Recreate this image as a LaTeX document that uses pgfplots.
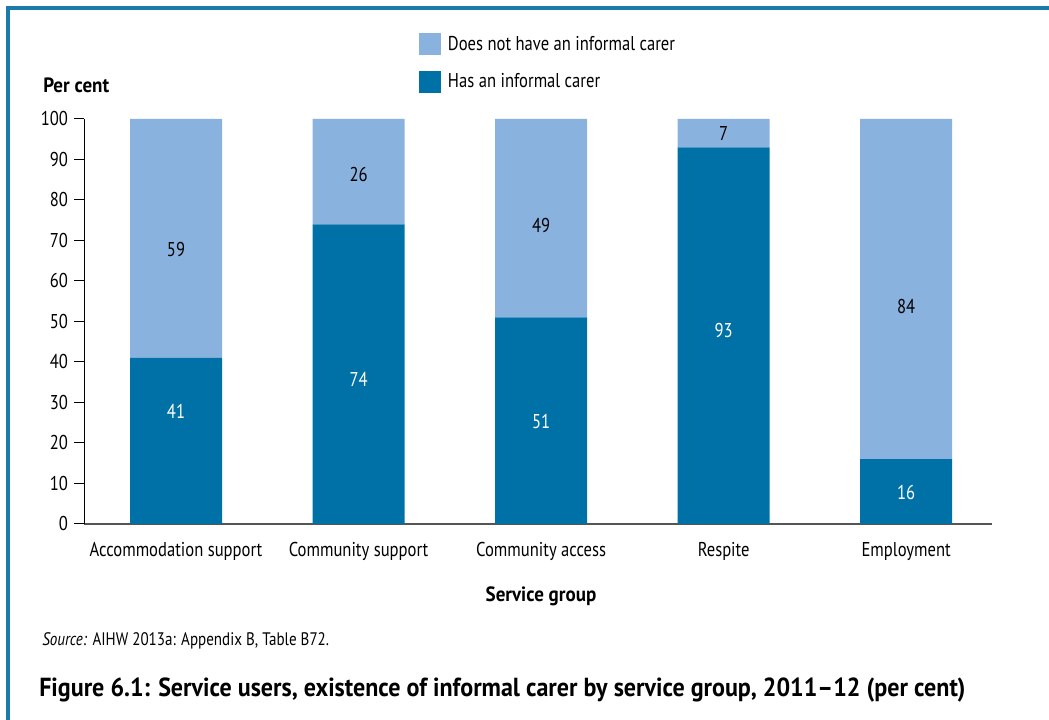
\documentclass[border=0pt]{standalone}
\usepackage{pgfplots}
\pgfplotsset{compat=1.18}
\usepackage{fontspec}
\setmainfont{PT Sans}[FakeStretch=0.83, BoldFeatures={FakeStretch=0.92}]
\definecolor{lightb}{HTML}{8AB2DF}
\definecolor{darkb}{HTML}{0071A6}
\definecolor{framec}{HTML}{1A7AAA}
\definecolor{xaxc}{HTML}{555555}
\newcommand{\fs}{\fontsize{15}{17}\selectfont}
\begin{document}
\begin{tikzpicture}[x=0.75pt,y=0.75pt]
\path[use as bounding box] (0,0) rectangle (1049,720);
\draw[framec, line width=2.4pt] (8,0) -- (8,712) -- (1049,712);
\begin{axis}[
  at={(63pt,147pt)}, anchor=south west,
  scale only axis, width=681pt, height=303.75pt,
  ybar stacked, bar width=69pt,
  xmin=-0.504, xmax=4.47, ymin=0, ymax=100,
  xtick={0,1,2,3,4},
  xticklabels={Accommodation support,Community support,Community access,Respite,Employment},
  ytick={0,10,...,100},
  axis x line*=bottom, axis y line*=left,
  x axis line style={xaxc, line width=0.9pt, -},
  y axis line style={black, line width=0.75pt, -},
  xtick style={draw=none},
  ytick style={black, line width=0.75pt},
  tick align=outside, major tick length=7.5pt,
  tick label style={font=\fs},
  /pgf/number format/assume math mode=true,
  xticklabel style={yshift=-3pt},
  yticklabel style={xshift=-1pt},
  reverse legend,
  legend cell align=left,
  legend style={draw=none, fill=none, at={(0.369,1.212)}, anchor=north west,
    inner sep=0pt, row sep=11.5pt, font=\fs,
    nodes={inner xsep=5pt}},
  legend image code/.code={\path[#1,draw=none] (0pt,-8.25pt) rectangle (16.5pt,8.25pt);},
]
\addplot[fill=darkb, draw=none] coordinates {(0,41) (1,74) (2,51) (3,93) (4,16)};
\addlegendentry{Has an informal carer}
\addplot[fill=lightb, draw=none] coordinates {(0,59) (1,26) (2,49) (3,7) (4,84)};
\addlegendentry{Does not have an informal carer}
\end{axis}
\begin{axis}[
  at={(63pt,147pt)}, anchor=south west,
  scale only axis, width=681pt, height=303.75pt,
  xmin=-0.504, xmax=4.47, ymin=0, ymax=100, hide axis,
  nodes near coords, point meta=explicit symbolic,
  every node near coord/.append style={anchor=center, font=\fs},
]
\addplot[draw=none, mark=none, nodes near coords={\textcolor{white}{\pgfplotspointmeta}}]
  coordinates {(0,27.9)[41] (1,35.8)[74] (2,25.2)[51] (3,47.7)[93] (4,7.7)[16]};
\addplot[draw=none, mark=none, nodes near coords={\textcolor{black}{\pgfplotspointmeta}}]
  coordinates {(0,67.7)[59] (1,86.2)[26] (2,73.8)[49] (3,96.5)[7] (4,53.8)[84]};
\end{axis}
\node[anchor=west, inner sep=0pt, font=\fontsize{15.5}{17}\selectfont\bfseries] at (43,635) {Per cent};
\node[inner sep=0pt, font=\fontsize{15.5}{17}\selectfont\bfseries] at (541,124) {Service group};
\node[anchor=west, inner sep=0pt, font=\fontsize{13.6}{15}\selectfont] at (42,79) {\textit{Source:} AIHW 2013a: Appendix B, Table B72.};
\node[anchor=west, inner sep=0pt, font=\fontsize{19.6}{22}\selectfont\bfseries] at (39,30) {Figure 6.1: Service users, existence of informal carer by service group, 2011–12 (per cent)};
\end{tikzpicture}
\end{document}
